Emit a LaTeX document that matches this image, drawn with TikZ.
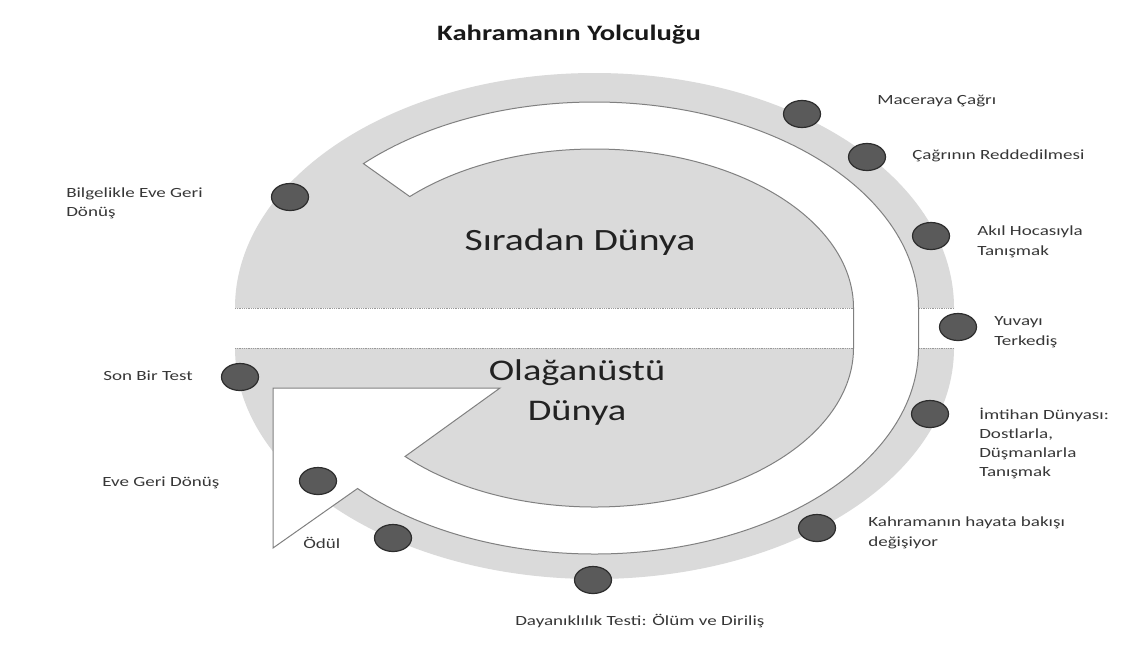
\documentclass[tikz,border=0pt]{standalone}
\usepackage{fontspec}
\setmainfont{Carlito}
\usetikzlibrary{calc,shapes.geometric}
\definecolor{ringgray}{RGB}{218,218,218}
\definecolor{outlinegray}{RGB}{128,128,128}
\definecolor{dotfill}{RGB}{90,90,90}
\definecolor{dotline}{RGB}{45,45,45}
\definecolor{labelgray}{RGB}{55,55,55}
\definecolor{bigtext}{RGB}{34,34,34}
\tikzset{
  dotmark/.style={ellipse, minimum width=37pt, minimum height=27pt, inner sep=0pt,
    fill=dotfill, draw=dotline, line width=1.2pt},
  lbl/.style={font=\fontsize{14}{19.5}\selectfont, text=labelgray, xscale=1.36,
    inner sep=0pt, align=left, anchor=west},
  bigworld/.style={font=\fontsize{31}{40}\selectfont, text=bigtext, xscale=1.28,
    inner sep=0pt, align=center},
  bandline/.style={draw=outlinegray!80, line width=0.8pt, densely dotted},
  arrowband/.style={fill=white, draw=outlinegray, line width=1pt, line join=miter}
}
\begin{document}
\begin{tikzpicture}[x=1pt,y=1pt]
\useasboundingbox (0,0) rectangle (1131,-649);
\fill[white] (0,0) rectangle (1131,-649);

\coordinate (CU) at (594.5,-308);
\coordinate (CL) at (594.5,-348);

% gray halves
\fill[ringgray] (235,-308) arc[start angle=180, end angle=0, x radius=359.5, y radius=235] -- cycle;
\fill[ringgray] (235,-348) arc[start angle=180, end angle=360, x radius=359.5, y radius=231] -- cycle;
\draw[bandline] (235,-308) -- (954,-308);
\draw[bandline] (235,-348) -- (954,-348);

% white circular arrow
\draw[arrowband]
  ($(CU)+(135.5:324 and 206)$)
  arc[start angle=135.5, end angle=0, x radius=324, y radius=206]
  -- (918.5,-348)
  arc[start angle=0, end angle=-137, x radius=324, y radius=206]
  -- (273,-548) -- (273,-388) -- (500,-388)
  -- ($(CL)+(-137:259 and 159)$)
  arc[start angle=-137, end angle=0, x radius=259, y radius=159]
  -- (853.5,-308)
  arc[start angle=0, end angle=135.5, x radius=259, y radius=159]
  -- cycle;

% world titles
\node[bigworld] (ordinary) at (580,-242) {Sıradan Dünya};
\node[bigworld, font=\fontsize{30}{40}\selectfont] (special) at (577,-392) {Olağanüstü\\Dünya};

% title
\node[font=\bfseries\fontsize{22}{26}\selectfont, text=black!90, xscale=1.3, inner sep=0pt] (title) at (569,-35) {Kahramanın Yolculuğu};

% dots
\node[dotmark] (d1) at (802,-114) {};
\node[dotmark] (d2) at (867,-157) {};
\node[dotmark] (d3) at (931,-236) {};
\node[dotmark] (d4) at (958,-327) {};
\node[dotmark] (d5) at (930,-414) {};
\node[dotmark] (d6) at (817,-528) {};
\node[dotmark] (d7) at (593,-580) {};
\node[dotmark] (d8) at (393,-538) {};
\node[dotmark] (d9) at (318,-481) {};
\node[dotmark] (d10) at (240,-377) {};
\node[dotmark] (d11) at (290,-197) {};

% labels
\node[lbl] (l1) at (877,-101) {Maceraya Çağrı};
\node[lbl] (l2) at (912,-156) {Çağrının Reddedilmesi};
\node[lbl] (l3) at (977,-242) {Akıl Hocasıyla\\Tanışmak};
\node[lbl] (l4) at (994,-332) {Yuvayı\\Terkediş};
\node[lbl, font=\fontsize{14}{19}\selectfont] (l5) at (979,-443.5) {İmtihan Dünyası:\\Dostlarla,\\Düşmanlarla\\Tanışmak};
\node[lbl] (l6) at (868,-533) {Kahramanın hayata bakışı\\değişiyor};
\node[lbl] (l7) at (515,-621) {Dayanıklılık Testi: Ölüm ve Diriliş};
\node[lbl] (l8) at (303,-543) {Ödül};
\node[lbl] (l9) at (102,-483) {Eve Geri Dönüş};
\node[lbl] (l10) at (103,-376) {Son Bir Test};
\node[lbl] (l11) at (66,-203.5) {Bilgelikle Eve Geri\\Dönüş};
\end{tikzpicture}
\end{document}
